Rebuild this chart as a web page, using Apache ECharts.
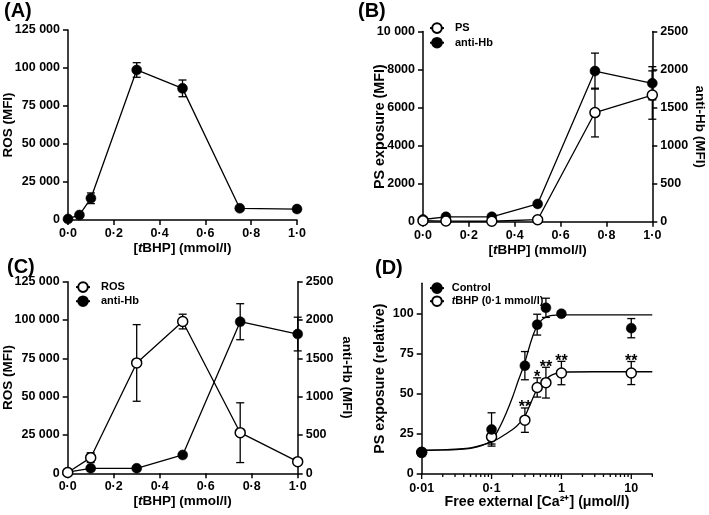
<!DOCTYPE html>
<html><head><meta charset="utf-8">
<script src="https://cdn.jsdelivr.net/npm/echarts@6/dist/echarts.min.js"></script>
<style>html,body{margin:0;padding:0;background:#fff}#c{width:709px;height:515px}</style>
</head><body><div id="c"></div>
<script>
// ---------- Panel A : ROS vs tBHP ----------
const aX = [0, 0.05, 0.1, 0.3, 0.5, 0.75, 1.0];
const aROS = [700, 3300, 14300, 98700, 86600, 7700, 7200];
const aROSErr = [0, 0, 3500, 4800, 5500, 0, 0];
// ---------- Panel B : PS exposure / anti-Hb ----------
const bX = [0, 0.1, 0.3, 0.5, 0.75, 1.0];
const bPS = [60, 40, 30, 110, 5740, 6660];
const bPSErr = [0, 0, 0, 0, 1280, 1270];
const bHb = [30, 66, 66, 235, 1980, 1820];
const bHbErr = [0, 0, 0, 0, 236, 218];
// ---------- Panel C : ROS / anti-Hb ----------
const cX = [0, 0.1, 0.3, 0.5, 0.75, 1.0];
const cROS = [500, 10200, 72000, 99000, 26500, 7600];
const cROSErr = [0, 3200, 25000, 4800, 19500, 0];
const cHb = [15, 65, 65, 239, 1978, 1817];
const cHbErr = [0, 0, 0, 0, 235, 220];
// ---------- Panel D : PS exposure vs free Ca ----------
const dX = [0.01, 0.1, 0.3, 0.45, 0.6, 1, 10];
const dCtrl = [13.5, 27.8, 67.6, 93.2, 103.7, 100, 91];
const dCtrlErr = [0, 10.4, 8.8, 6.5, 6, 0, 6];
const dTb = [13.5, 23.2, 33.6, 54, 57, 63, 63];
const dTbErr = [0, 4.5, 7.6, 6, 9.6, 7.3, 7.2];
const dStars = ['', '', '**', '*', '**', '**', '**'];
// fitted curves
const dCtrlFitX = [0.01, 0.02, 0.035, 0.05, 0.07, 0.1, 0.13, 0.164, 0.2, 0.24, 0.294, 0.354, 0.4, 0.451, 0.52, 0.6, 0.7, 0.85, 1, 3, 20];
const dCtrlFitY = [14.8, 15, 15.4, 16, 17.5, 21, 29, 38.5, 48, 58, 68.5, 80.5, 87.5, 92.5, 96, 97.9, 98.8, 99.2, 99.3, 99.3, 99.3];
const dTbFitX = [0.01, 0.02, 0.035, 0.05, 0.07, 0.1, 0.13, 0.164, 0.2, 0.23, 0.265, 0.3, 0.335, 0.37, 0.41, 0.45, 0.5, 0.58, 0.66, 0.75, 0.87, 1, 3, 20];
const dTbFitY = [14.8, 15, 15.6, 16.3, 17.8, 20, 22.5, 25.3, 27.8, 30, 32.8, 36, 40.5, 45, 49.5, 53, 55.8, 58.6, 60.6, 62, 63, 63.5, 63.8, 63.8];
const dMajorTicks = [0.01, 0.1, 1, 10];
const dMajorLabels = ['0·01', '0·1', '1', '10'];
const dMinorTicks = [0.02,0.03,0.04,0.05,0.06,0.07,0.08,0.09,0.2,0.3,0.4,0.5,0.6,0.7,0.8,0.9,2,3,4,5,6,7,8,9,20];
const dYTicks = [0, 25, 50, 75, 100];

const FONT = '"Liberation Sans", Arial, Helvetica, sans-serif';
const INK = '#000';

function pairs(xs, ys) { return xs.map((x, i) => [x, ys[i]]); }
function thou(v) { return v >= 10000 ? String(v).replace(/(\d)(?=(\d{3})+$)/, '$1 ') : String(v); }
function dotDec(v) { return v.toFixed(1).replace('.', '·'); }

const axisLine = { lineStyle: { color: INK, width: 1.5 } };
const axisTick = { length: 5, lineStyle: { color: INK, width: 1.5 } };
const labelStyle = { color: INK, fontFamily: FONT, fontWeight: 'bold', fontSize: 12.5 };
function mkNameStyle(fs) {
  return { color: INK, fontFamily: FONT, fontWeight: 'bold', fontSize: fs,
    rich: { i: { fontStyle: 'italic', fontWeight: 'bold', fontFamily: FONT, fontSize: fs, color: INK },
            n: { fontWeight: 'bold', fontFamily: FONT, fontSize: fs, color: INK } } };
}
const nameStyle = mkNameStyle(13.5);

function xTbhp(gi) {
  return { type: 'value', gridIndex: gi, min: 0, max: 1, interval: 0.2,
    axisLine, axisTick, splitLine: { show: false },
    axisLabel: Object.assign({ margin: 7, formatter: dotDec }, labelStyle),
    name: '{n|[}{i|t}{n|BHP] (mmol/l)}', nameLocation: 'middle', nameGap: 21, nameMoveOverlap: false, nameTextStyle: nameStyle };
}
function yVal(gi, max, interval, name, gap, pos, fs) {
  const ax = { type: 'value', gridIndex: gi, min: 0, max, interval, position: pos || 'left',
    axisLine: Object.assign({ show: true }, axisLine), axisTick: Object.assign({ show: true }, axisTick),
    splitLine: { show: false },
    axisLabel: Object.assign({ margin: 8, formatter: thou }, labelStyle),
    name, nameLocation: 'middle', nameGap: gap, nameMoveOverlap: false, nameTextStyle: fs ? mkNameStyle(fs) : nameStyle };
  if (pos === 'right') ax.nameRotate = -90;
  return ax;
}

function errSeries(xs, ys, es, xi, yi) {
  return { type: 'custom', xAxisIndex: xi, yAxisIndex: yi, z: 1, silent: true, clip: false,
    data: xs.map((x, i) => [x, ys[i] - es[i], ys[i] + es[i], es[i]]),
    encode: { x: 0, y: [1, 2] },
    renderItem: function (params, api) {
      if (api.value(3) <= 0) return null;
      const lo = api.coord([api.value(0), api.value(1)]);
      const hi = api.coord([api.value(0), api.value(2)]);
      const w = 4, st = { stroke: INK, lineWidth: 1.3 };
      return { type: 'group', children: [
        { type: 'line', shape: { x1: lo[0], y1: lo[1], x2: hi[0], y2: hi[1] }, style: st },
        { type: 'line', shape: { x1: lo[0] - w, y1: lo[1], x2: lo[0] + w, y2: lo[1] }, style: st },
        { type: 'line', shape: { x1: hi[0] - w, y1: hi[1], x2: hi[0] + w, y2: hi[1] }, style: st }
      ] };
    } };
}
const filled = { color: INK, borderColor: INK, borderWidth: 0.5, opacity: 1 };
const open = { color: '#fff', borderColor: INK, borderWidth: 1.5, opacity: 1 };
function lineSeries(name, xs, ys, xi, yi, style, z) {
  return { type: 'line', name, xAxisIndex: xi, yAxisIndex: yi, data: pairs(xs, ys),
    symbol: 'circle', symbolSize: 10, showSymbol: true, z: z || 2,
    lineStyle: { color: INK, width: 1.3 }, itemStyle: style };
}
const legendText = { color: INK, fontFamily: FONT, fontWeight: 'bold', fontSize: 11,
  rich: { i: { fontStyle: 'italic', fontWeight: 'bold', fontFamily: FONT, fontSize: 11, color: INK },
          n: { fontWeight: 'bold', fontFamily: FONT, fontSize: 11, color: INK } } };
function legend(names, left, top, gap, pad) {
  return { data: names, left, top, orient: 'vertical', padding: 0, itemWidth: 14, itemHeight: 12,
    itemGap: gap, selectedMode: false,
    textStyle: Object.assign({ padding: [0, 0, 0, pad] }, legendText),
    formatter: function (n) { return n.indexOf('tBHP') === 0 ? '{i|t}{n|BHP (0·1 mmol/l)}' : n; } };
}

const chart = echarts.init(document.getElementById('c'), null, { renderer: 'canvas' });
const TB_NAME = 'tBHP (0·1 mmol/l)';
const titleStyle = { fontSize: 20, fontWeight: 'bold', color: INK, fontFamily: FONT };

const option = {
  animation: false,
  backgroundColor: '#fff',
  textStyle: { fontFamily: FONT },
  title: [
    { text: '(A)', left: 4, top: 1, padding: 0, textStyle: titleStyle },
    { text: '(B)', left: 358, top: 1, padding: 0, textStyle: titleStyle },
    { text: '(C)', left: 7, top: 257, padding: 0, textStyle: titleStyle },
    { text: '(D)', left: 375, top: 258, padding: 0, textStyle: titleStyle }
  ],
  grid: [
    { left: 68, top: 30, width: 229, height: 190, outerBoundsMode: 'none' },
    { left: 423, top: 31.5, width: 229.3, height: 190.3, outerBoundsMode: 'none' },
    { left: 67.7, top: 281.7, width: 230, height: 191.6, outerBoundsMode: 'none' },
    { left: 421.7, top: 283.3, width: 230.6, height: 190.7, outerBoundsMode: 'none' }
  ],
  legend: [
    legend(['PS', 'anti-Hb'], 429, 22.3, 3, 6),
    legend(['ROS', 'anti-Hb'], 75, 281.3, 2.5, 6),
    legend(['Control', TB_NAME], 429, 282.3, 1.5, 2.7)
  ],
  xAxis: [
    xTbhp(0), xTbhp(1), xTbhp(2),
    { type: 'log', logBase: 10, gridIndex: 3, min: 0.01, max: 20,
      axisLine, axisTick: { show: false }, splitLine: { show: false }, minorTick: { show: false },
      axisLabel: Object.assign({ margin: 8, formatter: function (v) {
        for (let i = 0; i < dMajorTicks.length; i++) if (Math.abs(Math.log10(v) - Math.log10(dMajorTicks[i])) < 1e-6) return dMajorLabels[i];
        return ''; } }, labelStyle),
      name: '{n|Free external [Ca}{n|²⁺}{n|] (}{n|μ}{n|mol/l)}', nameLocation: 'middle', nameGap: 21,
      nameMoveOverlap: false, nameTextStyle: mkNameStyle(14.2) }
  ],
  yAxis: [
    yVal(0, 125000, 25000, 'ROS (MFI)', 53),
    yVal(1, 10000, 2000, 'PS exposure (MFI)', 36, 'left', 14.3),
    yVal(1, 2500, 500, 'anti-Hb (MFI)', 40, 'right'),
    yVal(2, 125000, 25000, 'ROS (MFI)', 52),
    yVal(2, 2500, 500, 'anti-Hb (MFI)', 42.5, 'right'),
    (function () {
      const ax = yVal(3, 119, 25, 'PS exposure (relative)', 35, 'left', 14.3);
      ax.axisTick.customValues = dYTicks;
      ax.axisLabel.customValues = dYTicks;
      return ax;
    })()
  ],
  series: [
    // A
    errSeries(aX, aROS, aROSErr, 0, 0),
    lineSeries('ROS A', aX, aROS, 0, 0, filled),
    // B
    errSeries(bX, bPS, bPSErr, 1, 1),
    errSeries(bX, bHb, bHbErr, 1, 2),
    lineSeries('PS', bX, bPS, 1, 1, open, 3),
    lineSeries('anti-Hb', bX, bHb, 1, 2, filled, 2),
    // C
    errSeries(cX, cROS, cROSErr, 2, 3),
    errSeries(cX, cHb, cHbErr, 2, 4),
    lineSeries('ROS', cX, cROS, 2, 3, open, 3),
    lineSeries('anti-Hb', cX, cHb, 2, 4, filled, 2),
    // D curves
    { type: 'line', name: 'Control', xAxisIndex: 3, yAxisIndex: 5, data: pairs(dCtrlFitX, dCtrlFitY),
      smooth: 0.3, symbol: 'circle', symbolSize: 10, showSymbol: false, z: 2,
      lineStyle: { color: INK, width: 1.3 }, itemStyle: filled },
    { type: 'line', name: TB_NAME, xAxisIndex: 3, yAxisIndex: 5, data: pairs(dTbFitX, dTbFitY),
      smooth: 0.3, symbol: 'circle', symbolSize: 10, showSymbol: false, z: 2,
      lineStyle: { color: INK, width: 1.3 }, itemStyle: open },
    errSeries(dX, dCtrl, dCtrlErr, 3, 5),
    errSeries(dX, dTb, dTbErr, 3, 5),
    { type: 'scatter', name: 'tBHP pts', xAxisIndex: 3, yAxisIndex: 5, data: pairs(dX, dTb),
      symbol: 'circle', symbolSize: 10, itemStyle: open, z: 3 },
    { type: 'scatter', name: 'Control pts', xAxisIndex: 3, yAxisIndex: 5, data: pairs(dX, dCtrl),
      symbol: 'circle', symbolSize: 10, itemStyle: filled, z: 4 },
    // significance stars
    { type: 'custom', xAxisIndex: 3, yAxisIndex: 5, z: 5, silent: true, clip: false,
      data: dX.map((x, i) => [x, dTb[i] + dTbErr[i], i]).filter(d => dStars[d[2]] !== ''),
      encode: { x: 0, y: 1 },
      renderItem: function (params, api) {
        const p = api.coord([api.value(0), api.value(1)]);
        return { type: 'text', x: p[0], y: p[1] + 8,
          style: { text: dStars[api.value(2)], fill: INK, font: 'bold 16px ' + FONT, align: 'center', verticalAlign: 'bottom' } };
      } },
    // log-axis ticks
    { type: 'custom', xAxisIndex: 3, yAxisIndex: 5, z: 5, silent: true, clip: false,
      data: dMajorTicks.map(v => [v, 0, 5]).concat(dMinorTicks.map(v => [v, 0, 3])),
      encode: { x: 0, y: 1 },
      renderItem: function (params, api) {
        const p = api.coord([api.value(0), 0]);
        return { type: 'line', shape: { x1: p[0], y1: p[1], x2: p[0], y2: p[1] + api.value(2) },
          style: { stroke: INK, lineWidth: 1.3 } };
      } }
  ]
};
chart.setOption(option);
</script>
</body></html>
